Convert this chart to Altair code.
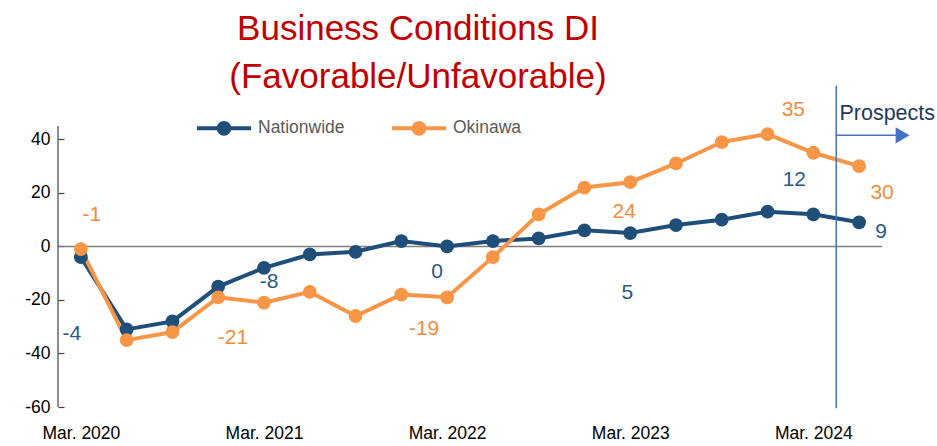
import altair as alt
import pandas as pd

quarters = ["Mar. 2020", "Jun. 2020", "Sep. 2020", "Dec. 2020",
            "Mar. 2021", "Jun. 2021", "Sep. 2021", "Dec. 2021",
            "Mar. 2022", "Jun. 2022", "Sep. 2022", "Dec. 2022",
            "Mar. 2023", "Jun. 2023", "Sep. 2023", "Dec. 2023",
            "Mar. 2024", "Jun. 2024"]
nationwide = [-4, -31, -28, -15, -8, -3, -2, 2, 0, 2, 3, 6, 5, 8, 10, 13, 12, 9]
okinawa = [-1, -35, -32, -19, -21, -17, -26, -18, -19, -4, 12, 22, 24, 31, 39, 42, 35, 30]
series_names = ["Nationwide", "Okinawa"]
series_colors = ["#1F4E79", "#F79646"]
label_colors = {"Nationwide": "#2B5886", "Okinawa": "#F38B3C"}
axis_ticks_x = [0, 4, 8, 12, 16]
axis_ticks_y = [-60, -40, -20, 0, 20, 40]

# labelled points: (series, quarter index, dx, dy)
value_labels = [
    ("Nationwide", 0, -9, 77), ("Nationwide", 4, 5, 14), ("Nationwide", 8, -10, 26),
    ("Nationwide", 12, -3, 60), ("Nationwide", 16, -19, -34), ("Nationwide", 17, 22, 10),
    ("Okinawa", 0, 11, -34), ("Okinawa", 4, -31, 35), ("Okinawa", 8, -23, 32),
    ("Okinawa", 12, -6, 30), ("Okinawa", 16, -20, -43), ("Okinawa", 17, 23, 27),
]

FONT = "Liberation Sans"

rows = []
for i, q in enumerate(quarters):
    rows.append({"idx": i, "quarter": q, "series": "Nationwide", "value": nationwide[i]})
    rows.append({"idx": i, "quarter": q, "series": "Okinawa", "value": okinawa[i]})
df = pd.DataFrame(rows)

label_js = "[" + ",".join("'" + q + "'" for q in quarters) + "][datum.value]"

xscale = alt.Scale(domain=[-0.5, 17.5], nice=False, zero=False)
yscale = alt.Scale(domain=[-60, 45], nice=False, zero=False)

x_enc = alt.X("idx:Q", scale=xscale,
              axis=alt.Axis(values=axis_ticks_x, labelExpr=label_js, domain=False, ticks=False,
                            grid=False, labelFont=FONT, labelFontSize=17.5, labelColor="#000000",
                            labelPadding=17, title=None))
y_enc = alt.Y("value:Q", scale=yscale,
              axis=alt.Axis(values=axis_ticks_y, grid=False, domain=False, offset=-6,
                            tickSize=6, tickColor="#404040", tickWidth=1.2,
                            labelExpr="'' + datum.value",
                            labelFont=FONT, labelFontSize=17.5, labelColor="#000000",
                            labelPadding=8, title=None))

color = alt.Color("series:N", scale=alt.Scale(domain=series_names, range=series_colors),
                  legend=alt.Legend(
                      title=None, orient="none", direction="horizontal",
                      legendX=137, legendY=-27, padding=0,
                      symbolType="M-1,0L1,0M0.2,0A0.2,0.2,0,1,1,-0.2,0A0.2,0.2,0,1,1,0.2,0Z",
                      symbolSize=2916, symbolStrokeWidth=4,
                      labelFont=FONT, labelFontSize=17.5, labelColor="#595959",
                      labelOffset=5, columnPadding=39))

zero_line = alt.Chart(pd.DataFrame({"value": [0]})).mark_rule(
    color="#7F7F7F", strokeWidth=1.5).encode(y=alt.Y("value:Q", scale=yscale))

y_axis_line = alt.Chart(pd.DataFrame({"idx": [-0.5], "value": [-60], "v2": [45]})).mark_rule(
    color="#404040", strokeWidth=1.2).encode(
    x=alt.X("idx:Q", scale=xscale), y=alt.Y("value:Q", scale=yscale), y2="v2:Q")

lines = alt.Chart(df).mark_line(strokeWidth=4).encode(x=x_enc, y=y_enc, color=color)
points = alt.Chart(df).mark_circle(size=190, opacity=1).encode(x=x_enc, y=y_enc, color=color)

labels = []
for s, i, dx, dy in value_labels:
    labels.append(
        alt.Chart(df).transform_filter(
            (alt.datum.series == s) & (alt.datum.idx == i)
        ).transform_calculate(
            txt="'' + datum.value"
        ).mark_text(dx=dx, dy=dy, font=FONT, fontSize=21, color=label_colors[s]).encode(
            x=alt.X("idx:Q", scale=xscale), y=alt.Y("value:Q", scale=yscale), text="txt:N")
    )

prospect_rule = alt.Chart(pd.DataFrame({"idx": [16.5], "value": [60], "v2": [-60.5]})).mark_rule(
    color="#4472C4", strokeWidth=1.5).encode(
    x=alt.X("idx:Q", scale=xscale), y=alt.Y("value:Q", scale=yscale), y2="v2:Q")
prospect_arrow = alt.Chart(pd.DataFrame({"idx": [16.5], "i2": [17.9], "value": [41.5]})).mark_rule(
    color="#4472C4", strokeWidth=1.5).encode(
    x=alt.X("idx:Q", scale=xscale), x2="i2:Q", y=alt.Y("value:Q", scale=yscale))
prospect_head = alt.Chart(pd.DataFrame({"idx": [17.95], "value": [41.5]})).mark_point(
    shape="triangle-right", filled=True, size=260, color="#4472C4", opacity=1).encode(
    x=alt.X("idx:Q", scale=xscale), y=alt.Y("value:Q", scale=yscale))
prospect_text = alt.Chart(pd.DataFrame({"idx": [16.57], "value": [47.3], "t": ["Prospects"]})).mark_text(
    align="left", baseline="alphabetic", font=FONT, fontSize=21.5, color="#1F3864").encode(
    x=alt.X("idx:Q", scale=xscale), y=alt.Y("value:Q", scale=yscale), text="t:N")

chart = alt.layer(
    zero_line, y_axis_line, lines, points, *labels,
    prospect_rule, prospect_arrow, prospect_head, prospect_text
).properties(
    width=824, height=281, background="white",
    title=alt.TitleParams(
        text=["Business Conditions DI", "(Favorable/Unfavorable)"],
        font=FONT, fontSize=35, fontWeight="normal", color="#C00000",
        anchor="middle", dx=-52, lineHeight=48, offset=-10),
    autosize=alt.AutoSizeParams(type="none"),
    padding={"left": 58, "top": 126, "right": 55, "bottom": 39},
).configure_view(strokeWidth=0, stroke="transparent")

chart.save("out.html", embed_options={"renderer": "svg", "actions": False})
